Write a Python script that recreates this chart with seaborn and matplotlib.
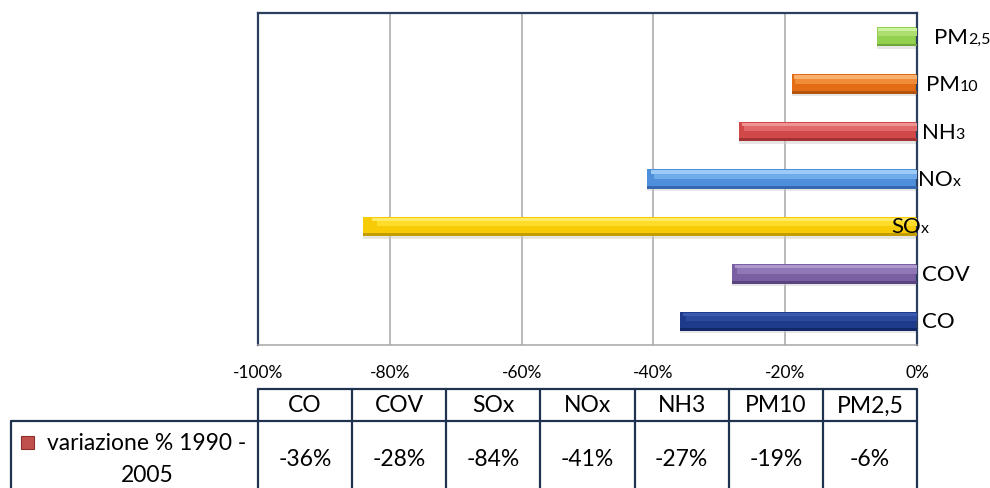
import matplotlib
matplotlib.use('Agg')
import matplotlib.pyplot as plt
import seaborn as sns
import pandas as pd
from matplotlib.patches import Rectangle
from matplotlib.lines import Line2D
from matplotlib.offsetbox import TextArea, HPacker, AnnotationBbox

# ---- data ----
categories = ['CO', 'COV', 'SOx', 'NOx', 'NH3', 'PM10', 'PM2,5']
values = [-36, -28, -84, -41, -27, -19, -6]
label_main = ['CO', 'COV', 'SO', 'NO', 'NH', 'PM', 'PM']
label_sub = ['', '', 'x', 'x', '3', '10', '2,5']
table_values = ['-36%', '-28%', '-84%', '-41%', '-27%', '-19%', '-6%']
series_line1 = 'variazione % 1990 -'
series_line2 = '2005'
xticks = [-100, -80, -60, -40, -20, 0]
xtick_labels = ['-100%', '-80%', '-60%', '-40%', '-20%', '0%']

# ---- styles ----
base_colors = ['#1E3A8A', '#7B5FA3', '#F7CB06', '#4E8FDC', '#D04848', '#E46C14', '#92D050']
mid_colors = ['#2A4A9E', '#9078B6', '#FFDB2A', '#6FAAEA', '#E06868', '#F08B38', '#ADDF70']
light_colors = ['#3A5AB2', '#AE98CE', '#FFEA66', '#9CCBF7', '#F09393', '#F9B06E', '#CFF2A0']
dark_colors = ['#132766', '#5B4380', '#C49E00', '#3468B0', '#A23232', '#B4530C', '#6FA53A']
label_offsets = [5, 5, -26, 1, 5, 9, 17]   # pixels to the right of 0

sns.set_theme(style='white')
plt.rcParams['font.family'] = ['Lato', 'DejaVu Sans']

W, H = 990, 489
fig = plt.figure(figsize=(W / 100, H / 100), dpi=100)
fig.patch.set_facecolor('white')

x0, x1, y0, y1 = 258, 917, 14, 346
ax = fig.add_axes([x0 / W, 1 - y1 / H, (x1 - x0) / W, (y1 - y0) / H])

df = pd.DataFrame({'cat': categories, 'val': values})
order = categories[::-1]
sns.barplot(data=df, y='cat', x='val', hue='cat', order=order, hue_order=categories,
            palette=base_colors, orient='h', width=0.41, legend=False, ax=ax,
            saturation=1, linewidth=0)

pos = {c: i for i, c in enumerate(order)}
for c, v, mc, lc, dc in zip(categories, values, mid_colors, light_colors, dark_colors):
    p = pos[c]
    # soft shadow
    ax.barh(p + 0.23, v, height=0.05, color='#C8C8C8', alpha=0.45, linewidth=0, zorder=1)
    # bevel: graded highlight on the upper part, shade at the bottom
    ax.barh(p - 0.09, v * 0.975, height=0.17, color=mc, linewidth=0, zorder=3)
    ax.barh(p - 0.15, v * 0.985, height=0.07, color=lc, linewidth=0, zorder=3)
    ax.barh(p + 0.175, v, height=0.06, color=dc, linewidth=0, zorder=3)

for c, m, s, off in zip(categories, label_main, label_sub, label_offsets):
    children = [TextArea(m, textprops=dict(fontsize=16, color='black'))]
    if s:
        children.append(TextArea(s, textprops=dict(fontsize=11.5, color='black')))
    box = HPacker(children=children, align='baseline', pad=0, sep=0)
    ab = AnnotationBbox(box, xy=(0, pos[c]), xycoords='data', xybox=(off, 0),
                        boxcoords='offset pixels', box_alignment=(0, 0.5),
                        frameon=False, pad=0, annotation_clip=False, zorder=5)
    ax.add_artist(ab)

ax.set_xlim(-100, 0)
ax.set_ylim(len(order) - 0.5, -0.5)
ax.set_xticks(xticks)
ax.set_xticklabels(xtick_labels, fontsize=12.5, color='black')
ax.tick_params(axis='x', length=0, pad=14)
ax.set_yticks([])
ax.set_xlabel('')
ax.set_ylabel('')
ax.xaxis.grid(True, color='#A6A6A6', linewidth=1.1)
ax.set_axisbelow(True)
for sp in ['left', 'top', 'right']:
    ax.spines[sp].set_color('#2A3F5E')
    ax.spines[sp].set_linewidth(1.6)
ax.spines['bottom'].set_color('#A6A6A6')
ax.spines['bottom'].set_linewidth(1.1)

# ---- data table below ----
oax = fig.add_axes([0, 0, 1, 1], zorder=-1)
oax.set_xlim(0, W)
oax.set_ylim(H, 0)
oax.axis('off')

lc_tab = '#1F3350'
lw_tab = 1.6
ncol = len(categories)
cw = (x1 - x0) / ncol
ty0, ty1, ybot = 390, 422, 492
oax.add_line(Line2D([x0, x1], [ty0, ty0], color=lc_tab, lw=lw_tab))
oax.add_line(Line2D([11, x1], [ty1, ty1], color=lc_tab, lw=lw_tab))
oax.add_line(Line2D([11, 11], [ty1, ybot], color=lc_tab, lw=lw_tab))
for k in range(ncol + 1):
    xx = x0 + cw * k
    oax.add_line(Line2D([xx, xx], [ty0, ybot], color=lc_tab, lw=lw_tab))
for k, (c, tv) in enumerate(zip(categories, table_values)):
    xc = x0 + cw * (k + 0.5)
    oax.text(xc, (ty0 + ty1) / 2, c, ha='center', va='center', fontsize=16.5, color='black')
    oax.text(xc, 459, tv, ha='center', va='center', fontsize=16.5, color='black')

oax.add_patch(Rectangle((21, 437), 13, 13, facecolor='#C0504D', edgecolor='#8E2F2D', lw=0.8))
oax.text(147, 443, series_line1, ha='center', va='center', fontsize=16.5, color='black')
oax.text(147, 475, series_line2, ha='center', va='center', fontsize=16.5, color='black')

fig.savefig('out.png', dpi=100, facecolor='white')
